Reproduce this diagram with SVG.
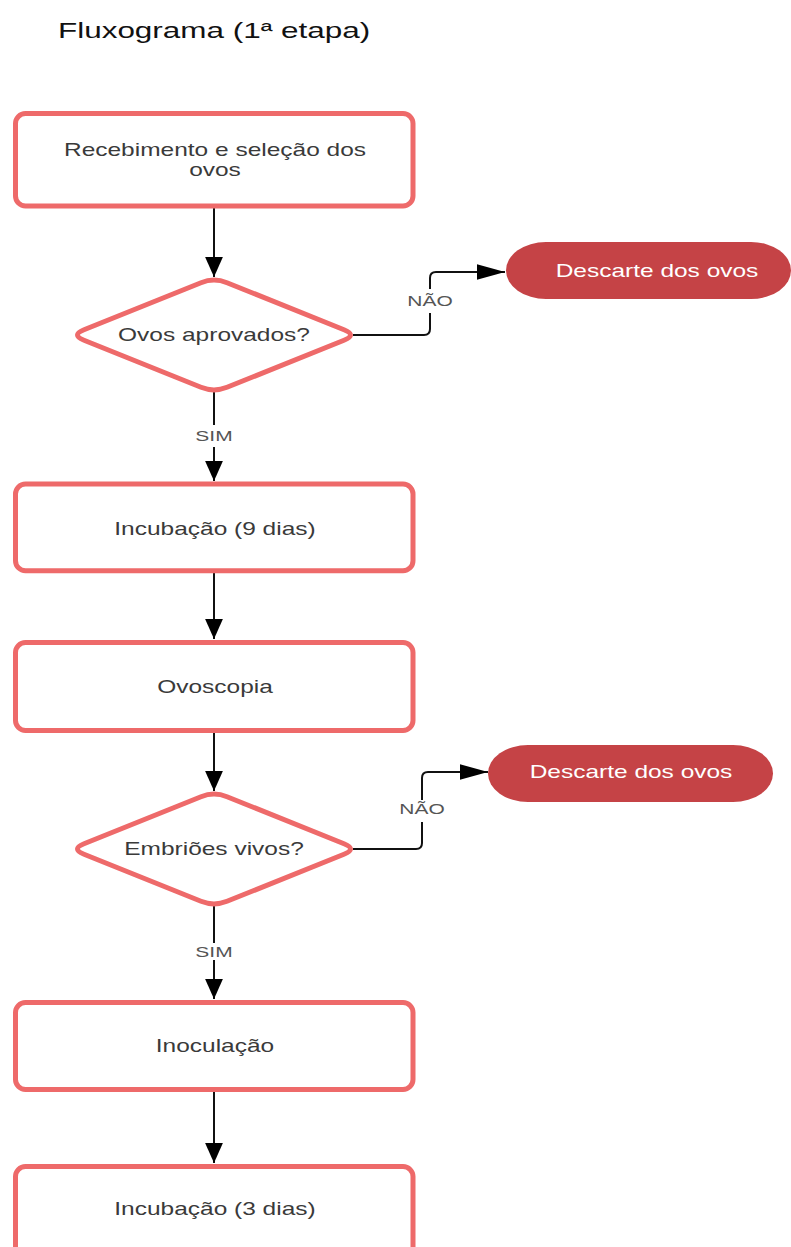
<svg xmlns="http://www.w3.org/2000/svg" xmlns:xlink="http://www.w3.org/1999/xlink" width="791" height="1247" viewBox="0 0 791 1247">
<style>
.box{fill:#ffffff;stroke:#ee6a6a;stroke-width:5}
.term{fill:#c54346;stroke:none}
.t{font-family:"Liberation Sans",Arial,sans-serif;font-size:17.5px;fill:#3a3a3a;text-anchor:middle}
.tw{font-family:"Liberation Sans",Arial,sans-serif;font-size:17.5px;fill:#ffffff;text-anchor:middle}
.lbl{font-family:"Liberation Sans",Arial,sans-serif;font-size:15px;fill:#555555;text-anchor:middle}
.title{font-family:"Liberation Sans",Arial,sans-serif;font-size:22px;fill:#111111}
.c{fill:none;stroke:#111111;stroke-width:2}
</style>
<defs>
<path id="dia" d="M -13,-52.3 Q 0,-57.5 13,-52.3 L 130,-5.2 Q 143,0 130,5.2 L 13,52.3 Q 0,57.5 -13,52.3 L -130,5.2 Q -143,0 -130,-5.2 Z"/>
<marker id="aV" markerUnits="userSpaceOnUse" markerWidth="20" markerHeight="20" viewBox="0 -9 18 18" refX="18" refY="0" orient="auto">
<path d="M0,-8 L18,0 L0,8 Z" fill="#000"/>
</marker>
<marker id="aH" markerUnits="userSpaceOnUse" markerWidth="28" markerHeight="18" viewBox="0 -8 27 16" refX="27" refY="0" orient="auto">
<path d="M0,-7.5 L27,0 L0,7.5 Z" fill="#000"/>
</marker>
</defs>
<rect width="791" height="1247" fill="#ffffff"/>
<text class="title" transform="translate(58,38) scale(1.43,1)">Fluxograma (1ª etapa)</text>

<g id="connectors">
<path class="c" d="M214,208 V277" marker-end="url(#aV)"/>
<path class="c" d="M214,392 V425"/>
<path class="c" d="M214,447 V481" marker-end="url(#aV)"/>
<text class="lbl" transform="translate(214,441) scale(1.4,1)">SIM</text>
<path class="c" d="M214,573 V639" marker-end="url(#aV)"/>
<path class="c" d="M214,733 V791" marker-end="url(#aV)"/>
<path class="c" d="M214,906 V943"/>
<path class="c" d="M214,960 V999" marker-end="url(#aV)"/>
<text class="lbl" transform="translate(214,957) scale(1.4,1)">SIM</text>
<path class="c" d="M214,1092 V1163" marker-end="url(#aV)"/>
<path class="c" d="M353,335 H424 Q430,335 430,329 V313"/>
<path class="c" d="M430,289 V278 Q430,272 436,272 H505" marker-end="url(#aH)"/>
<text class="lbl" transform="translate(430,306) scale(1.4,1)">NÃO</text>
<path class="c" d="M353,849 H416 Q422,849 422,843 V822"/>
<path class="c" d="M422,800 V778 Q422,772 428,772 H488" marker-end="url(#aH)"/>
<text class="lbl" transform="translate(422,814) scale(1.4,1)">NÃO</text>
</g>

<g id="n1">
<rect class="box" x="15.5" y="113.5" width="397.5" height="92.5" rx="10"/>
<text class="t" transform="translate(215,156) scale(1.4,1)">Recebimento e seleção dos</text>
<text class="t" transform="translate(215,176) scale(1.4,1)">ovos</text>
</g>
<g id="d1">
<use xlink:href="#dia" x="214" y="335" class="box"/>
<text class="t" transform="translate(214,341) scale(1.4,1)">Ovos aprovados?</text>
</g>
<g id="e1">
<rect class="term" x="506" y="242" width="285" height="57" rx="40" ry="28.5"/>
<text class="tw" transform="translate(657,277) scale(1.4,1)">Descarte dos ovos</text>
</g>
<g id="n2">
<rect class="box" x="15.5" y="484" width="397.5" height="86.7" rx="10"/>
<text class="t" transform="translate(215,535) scale(1.4,1)">Incubação (9 dias)</text>
</g>
<g id="n3">
<rect class="box" x="15.5" y="642.5" width="397.5" height="88" rx="10"/>
<text class="t" transform="translate(215,692.5) scale(1.4,1)">Ovoscopia</text>
</g>
<g id="d2">
<use xlink:href="#dia" x="214" y="849" class="box"/>
<text class="t" transform="translate(214,855) scale(1.4,1)">Embriões vivos?</text>
</g>
<g id="e2">
<rect class="term" x="488" y="745" width="285" height="57" rx="40" ry="28.5"/>
<text class="tw" transform="translate(631,778) scale(1.4,1)">Descarte dos ovos</text>
</g>
<g id="n4">
<rect class="box" x="15.5" y="1002.5" width="397.5" height="87" rx="10"/>
<text class="t" transform="translate(215,1052) scale(1.4,1)">Inoculação</text>
</g>
<g id="n5">
<rect class="box" x="15.5" y="1166.5" width="397.5" height="92" rx="10"/>
<text class="t" transform="translate(215,1215) scale(1.4,1)">Incubação (3 dias)</text>
</g>
</svg>
